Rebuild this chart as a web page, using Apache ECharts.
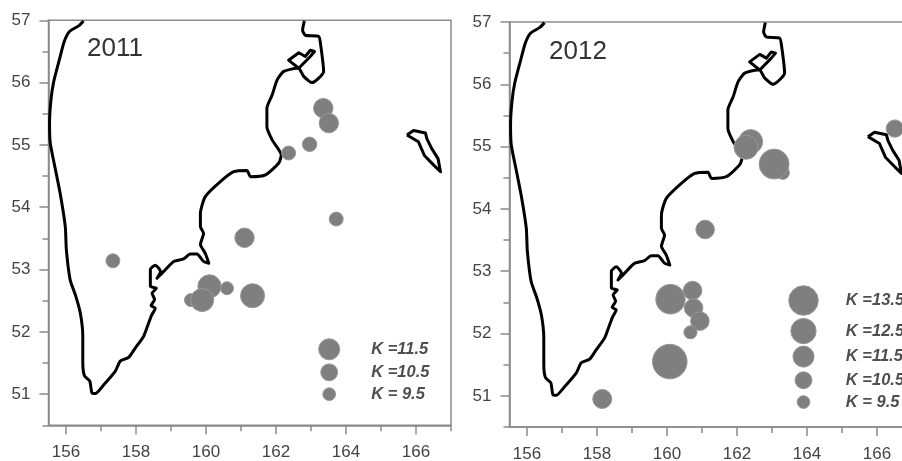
<!DOCTYPE html>
<html><head><meta charset="utf-8">
<script src="https://cdn.jsdelivr.net/npm/echarts@6/dist/echarts.min.js"></script>
<style>html,body{margin:0;padding:0;background:#fff}#c{width:902px;height:461px}</style>
</head><body><div id="c"></div>
<script>
const xMajor=[156,158,160,162,164,166];
const xMinor=[157,159,161,163,165,167];
const yMajor=[51,52,53,54,55,56,57];
const yMinor=[50.5,51.5,52.5,53.5,54.5,55.5,56.5];

const mainLon=[156.50,156.36,156.10,155.95,155.82,155.65,155.57,155.53,155.55,155.70,155.84,155.98,156.01,156.12,156.27,156.41,156.48,156.48,156.53,156.68,156.74,156.84,157.08,157.41,157.55,157.79,157.98,158.22,158.36,158.44,158.55,158.43,158.53,158.46,158.58,158.41,158.41,158.55,158.70,158.60,158.79,159.08,159.36,159.55,159.74,159.93,160.08,159.98,159.84,159.93,159.84,159.84,159.98,160.41,160.79,161.17,161.27,161.70,162.08,162.15,161.89,161.74,161.74,161.89,162.03,162.22,162.60,162.65,162.79,163.03,163.36,163.27,163.22,162.84,162.76,162.81];
const mainLat=[56.99,56.91,56.82,56.66,56.39,56.02,55.72,55.35,55.03,54.60,54.20,53.69,53.32,52.83,52.59,52.30,51.93,51.50,51.29,51.21,51.02,51.01,51.15,51.37,51.53,51.59,51.74,51.93,52.14,52.26,52.38,52.42,52.52,52.62,52.70,52.73,53.00,53.07,52.97,52.86,52.97,53.13,53.17,53.25,53.25,53.13,53.10,53.26,53.40,53.58,53.69,53.90,54.17,54.41,54.57,54.59,54.49,54.52,54.71,54.84,55.08,55.29,55.59,55.80,56.04,56.18,56.23,56.23,56.10,56.00,56.18,56.63,56.74,56.76,56.84,56.99];
const lagoonLon=[162.65,162.36,162.65,162.84,162.98,163.10,162.98,162.65];
const lagoonLat=[56.23,56.36,56.48,56.42,56.52,56.50,56.42,56.23];
const islandLon=[165.74,165.93,166.27,166.31,166.45,166.63,166.70,166.50,166.24,166.07,165.74];
const islandLat=[55.16,55.23,55.19,55.10,54.94,54.78,54.57,54.68,54.83,55.05,55.16];

const lon2011=[163.35,163.51,162.96,162.36,163.72,161.10,157.34,159.57,160.60,160.10,161.33,159.89];
const lat2011=[55.59,55.35,55.01,54.87,53.81,53.51,53.14,52.51,52.70,52.73,52.58,52.51];
const k2011=[11.1,11.1,9.9,9.8,9.8,11.1,9.8,9.55,9.55,12.0,12.2,11.9];

const lon2012=[166.51,162.39,162.26,163.31,163.06,161.09,160.10,160.73,160.76,160.94,160.67,160.08,158.15];
const lat2012=[55.29,55.08,54.99,54.58,54.72,53.67,52.55,52.69,52.41,52.20,52.02,51.55,50.95];
const k2012=[10.6,12.2,12.2,9.6,13.6,10.9,13.45,10.9,10.9,10.9,9.6,14.7,11.0];

const legendK2011=[11.5,10.5,9.5];
const legendLat2011=[51.72,51.35,51.00];
const legendText2011=['K =11.5','K =10.5','K = 9.5'];
const legendLon2011=163.52, legendTextLon2011=164.72;
const legendK2012=[13.5,12.5,11.5,10.5,9.5];
const legendLat2012=[52.53,52.04,51.63,51.25,50.90];
const legendText2012=['K =13.5','K =12.5','K =11.5','K =10.5','K = 9.5'];
const legendLon2012=163.90, legendTextLon2012=165.11;

const FONT='"Liberation Sans",Arial,sans-serif';
const AXIS='#8a8a8a', DOT='#7f7f7f', EDGE='#979797';
const zip=(a,b,c)=>a.map((v,i)=>c?[v,b[i],c[i]]:[v,b[i]]);
const size=v=>12.7+4.2*(v[2]-9.5);

const grids=[{left:48.5,top:20.3,width:402.5,height:405},{left:509.5,top:22,width:402.5,height:405}];

function axes(g){
  const x=(vals,len,labels)=>({type:'value',gridIndex:g,min:155.5,max:167,position:'bottom',splitLine:{show:false},
    axisLine:{show:labels,lineStyle:{color:AXIS,width:1.5}},
    axisTick:{show:true,customValues:vals,length:len,lineStyle:{color:AXIS,width:1.5}},
    axisLabel:{show:labels,customValues:vals,margin:19,fontSize:17,fontFamily:FONT,color:'#444'}});
  const y=(vals,len,labels)=>({type:'value',gridIndex:g,min:50.5,max:57,position:'left',splitLine:{show:false},
    axisLine:{show:labels,lineStyle:{color:AXIS,width:1.5}},
    axisTick:{show:true,customValues:vals,length:len,lineStyle:{color:AXIS,width:1.5}},
    axisLabel:{show:labels,customValues:vals,margin:18,fontSize:17,fontFamily:FONT,color:'#444'}});
  return {x:[x(xMajor,9,true),x(xMinor,6,false)],y:[y(yMajor,9,true),y(yMinor,6,false)]};
}
const a0=axes(0),a1=axes(1);

function coast(xi,yi,d,sm){return {type:'line',xAxisIndex:xi,yAxisIndex:yi,data:d,showSymbol:false,symbol:'none',smooth:sm,
  lineStyle:{color:'#000',width:3,join:'round'},z:3,silent:true};}
function dots(xi,yi,d){return {type:'scatter',xAxisIndex:xi,yAxisIndex:yi,data:d,symbolSize:size,
  itemStyle:{color:DOT,borderColor:EDGE,borderWidth:1,opacity:1},z:4,silent:true};}
function labels(xi,yi,lon,lats,texts){return {type:'scatter',xAxisIndex:xi,yAxisIndex:yi,symbolSize:0,z:5,silent:true,
  data:lats.map((la,i)=>({value:[lon,la],name:texts[i]})),
  label:{show:true,position:'right',distance:0,formatter:p=>p.name,fontSize:16.5,fontWeight:'bold',fontStyle:'italic',fontFamily:FONT,color:'#222'}};}

const mainland=zip(mainLon,mainLat),lagoon=zip(lagoonLon,lagoonLat),island=zip(islandLon,islandLat);
const series=[];
[[0,0,zip(lon2011,lat2011,k2011),legendLon2011,legendK2011,legendLat2011,legendText2011,legendTextLon2011],
 [2,2,zip(lon2012,lat2012,k2012),legendLon2012,legendK2012,legendLat2012,legendText2012,legendTextLon2012]].forEach(p=>{
  const [xi,yi,pts,lLon,lK,lLat,lTxt,tLon]=p;
  series.push(coast(xi,yi,mainland,0.2),coast(xi,yi,lagoon,false),coast(xi,yi,island,false));
  series.push(dots(xi,yi,pts));
  series.push(dots(xi,yi,lLat.map((la,i)=>[lLon,la,lK[i]])));
  series.push(labels(xi,yi,tLon,lLat,lTxt));
});

const chart=echarts.init(document.getElementById('c'),null,{renderer:'canvas'});
chart.setOption({
  animation:false,backgroundColor:'#fff',
  title:[
    {text:'2011',left:82,top:31,textStyle:{fontSize:26,fontWeight:'normal',fontFamily:FONT,color:'#333'}},
    {text:'2012',left:544,top:34,textStyle:{fontSize:26,fontWeight:'normal',fontFamily:FONT,color:'#333'}}
  ],
  grid:grids.map(g=>Object.assign({show:true,borderColor:AXIS,borderWidth:1.5,backgroundColor:'transparent',containLabel:false,outerBoundsMode:'none'},g)),
  xAxis:[...a0.x,...a1.x],
  yAxis:[...a0.y,...a1.y],
  series
});
</script></body></html>
